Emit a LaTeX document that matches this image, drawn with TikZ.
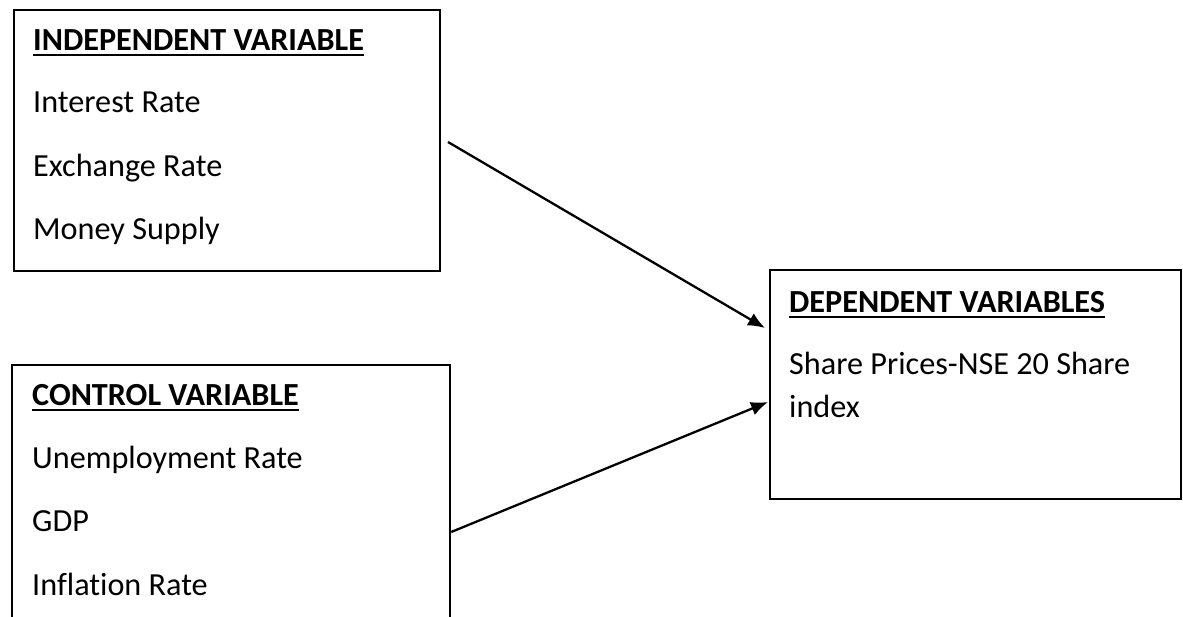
\documentclass[tikz,border=0pt]{standalone}
\usepackage{fontspec}
\setmainfont[Ligatures=NoCommon]{Carlito}
\usetikzlibrary{arrows.meta,calc}
\begin{document}
\begin{tikzpicture}[x=1pt,y=-1pt,
  boxnode/.style={draw=black,line width=2.2pt,rectangle,inner sep=0pt,anchor=north west},
  txt/.style={anchor=base west,inner sep=0pt,font=\fontsize{32.2pt}{44pt}\selectfont},
  hdr/.style={txt,font=\fontsize{32.2pt}{44pt}\selectfont\bfseries},
  uline/.style={line width=2.8pt},
  arr/.style={line width=2.3pt,-{Latex[length=17pt,width=14pt]}}]
\useasboundingbox (0,0) rectangle (1183,616);
% boxes
\node[boxnode,minimum width=426pt,minimum height=261.5pt] (box1) at (12.7,8.5) {};
\node[boxnode,minimum width=438pt,minimum height=330pt] (box2) at (11,364) {};
\node[boxnode,minimum width=411pt,minimum height=229pt] (box3) at (769,269) {};
% box 1 text
\node[hdr] (h1) at (33,50) {INDEPENDENT VARIABLE};
\draw[uline] ($(h1.base west)+(0,5)$) -- ($(h1.base east)+(0,5)$);
\node[txt] (i1) at (33,112) {Interest Rate};
\node[txt] (i2) at (33,176) {Exchange Rate};
\node[txt] (i3) at (33,239) {Money Supply};
% box 2 text
\node[hdr] (h2) at (32,405) {CONTROL VARIABLE};
\draw[uline] ($(h2.base west)+(0,5)$) -- ($(h2.base east)+(0,5)$);
\node[txt] (c1) at (32,468) {Unemployment Rate};
\node[txt] (c2) at (32,531) {GDP};
\node[txt] (c3) at (32,595) {Inflation Rate};
% box 3 text
\node[hdr] (h3) at (789,312) {DEPENDENT VARIABLES};
\draw[uline] ($(h3.base west)+(0,5)$) -- ($(h3.base east)+(0,5)$);
\node[txt] (d1) at (789,374) {Share Prices-NSE 20 Share};
\node[txt] (d2) at (789,417) {index};
% arrows
\coordinate (s1) at (448,142);
\coordinate (t1) at ($(box3.north west)+(-4,59)$);
\coordinate (s2) at ($(box2.north east)+(0,168)$);
\coordinate (t2) at ($(box3.north west)+(-1,133)$);
\draw[arr] (s1) -- (t1);
\draw[arr] (s2) -- (t2);
\end{tikzpicture}
\end{document}
